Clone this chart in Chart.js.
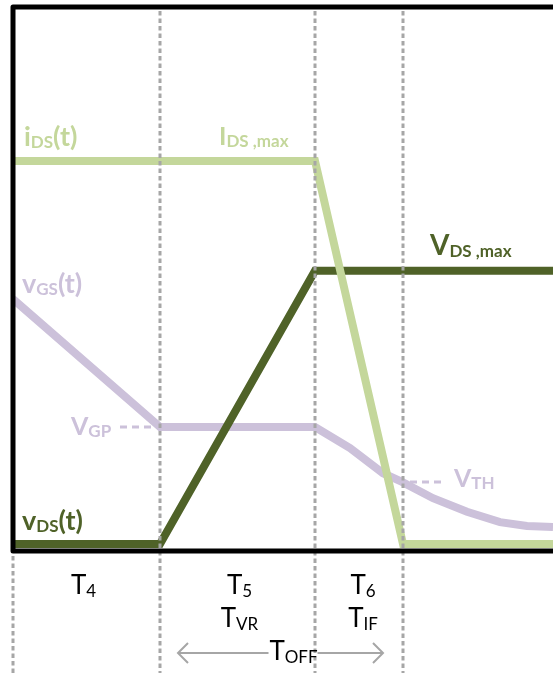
<!DOCTYPE html>
<html>
<head>
<meta charset="utf-8">
<script src="https://cdn.jsdelivr.net/npm/chart.js@4.4.1/dist/chart.umd.min.js"></script>
<style>
  html, body { margin: 0; padding: 0; background: #fff; }
  #wrap { width: 553px; height: 673px; }
</style>
</head>
<body>
<div id="wrap"><canvas id="switchChart"></canvas></div>
<script>
// turn-off interval boundaries (end of T4, T5, T6)
const phaseEnds = [29.4, 60.4, 78];

// drain current
const iDsTime = [0, 60.4, 78, 108];
const iDsValue = [7.17, 7.17, 0.13, 0.13];

// drain-source voltage
const vDsTime = [0, 29.4, 60.4, 108];
const vDsValue = [0.13, 0.13, 5.15, 5.15];

// gate-source voltage
const vGsTime = [0, 29.4, 60.4, 67.4, 74, 77.8, 84, 90.8, 97.4, 102.8, 108];
const vGsValue = [4.63, 2.28, 2.28, 1.89, 1.43, 1.27, 0.97, 0.72, 0.53, 0.46, 0.44];

// plateau / threshold levels
const vGp = 2.28;
const vTh = 1.27;

const FONT = 'Lato, "Open Sans", sans-serif';
const GREEN_LIGHT = '#c4d79b';
const GREEN_DARK = '#4f6228';
const LAVENDER = '#ccc1da';
const GRID_GRAY = '#a6a6a6';

function toPoints(xs, ys) {
    return xs.map((x, i) => ({ x: x, y: ys[i] }));
}

// draws text pieces one after another, subscripts shifted down a bit
function drawParts(ctx, x, y, parts, color, align) {
    ctx.save();
    ctx.fillStyle = color;
    ctx.textBaseline = 'alphabetic';
    ctx.textAlign = 'left';
    let total = 0;
    parts.forEach(p => {
        ctx.font = p.font;
        total += ctx.measureText(p.text).width;
    });
    let cx = align === 'center' ? x - total / 2 : x;
    parts.forEach(p => {
        ctx.font = p.font;
        ctx.fillText(p.text, cx, y + (p.dy || 0));
        cx += ctx.measureText(p.text).width;
    });
    ctx.restore();
}

const big = (t) => ({ text: t, font: 'bold 27px ' + FONT });
const sub = (t) => ({ text: t, font: 'bold 17px ' + FONT, dy: 2 });
const tMain = () => ({ text: 'T', font: '26px ' + FONT });
const tSub = (t) => ({ text: t, font: '17px ' + FONT, dy: 3 });

const annotations = {
    id: 'annotations',
    afterDatasetsDraw(chart) {
        const ctx = chart.ctx;
        const xs = chart.scales.x;
        const ys = chart.scales.y;
        const area = chart.chartArea;
        const H = chart.height;

        // dashed phase boundaries
        ctx.save();
        ctx.strokeStyle = GRID_GRAY;
        ctx.lineWidth = 3;
        ctx.lineCap = 'butt';
        ctx.setLineDash([4.5, 3]);
        phaseEnds.forEach(t => {
            const px = Math.round(xs.getPixelForValue(t));
            ctx.beginPath();
            ctx.moveTo(px, area.top + 4);
            ctx.lineTo(px, H);
            ctx.stroke();
        });
        const x0 = xs.getPixelForValue(0);
        ctx.beginPath();
        ctx.moveTo(x0, area.bottom + 5);
        ctx.lineTo(x0, H);
        ctx.stroke();
        ctx.restore();

        // frame: top, left, bottom
        ctx.save();
        ctx.strokeStyle = '#000';
        ctx.lineWidth = 5;
        ctx.lineJoin = 'round';
        ctx.beginPath();
        ctx.moveTo(chart.width, area.top);
        ctx.lineTo(area.left, area.top);
        ctx.lineTo(area.left, area.bottom);
        ctx.lineTo(chart.width, area.bottom);
        ctx.stroke();
        ctx.restore();

        // short dashed leaders for V_GP and V_TH
        ctx.save();
        ctx.lineWidth = 3;
        ctx.strokeStyle = LAVENDER;
        ctx.setLineDash([7, 5]);
        const yGp = ys.getPixelForValue(vGp);
        ctx.beginPath();
        ctx.moveTo(xs.getPixelForValue(phaseEnds[0]) - 40, yGp);
        ctx.lineTo(xs.getPixelForValue(phaseEnds[0]) - 4, yGp);
        ctx.stroke();
        const yTh = ys.getPixelForValue(vTh);
        ctx.beginPath();
        ctx.moveTo(xs.getPixelForValue(phaseEnds[2]) + 7, yTh);
        ctx.lineTo(xs.getPixelForValue(phaseEnds[2]) + 42, yTh);
        ctx.stroke();
        ctx.restore();

        // curve labels
        const left = area.left;
        drawParts(ctx, left + 11, ys.getPixelForValue(iDsValue[0]) - 15,
            [big('i'), sub('DS'), big('(t)')], GREEN_LIGHT);
        drawParts(ctx, xs.getPixelForValue(phaseEnds[1]) - 96, ys.getPixelForValue(iDsValue[0]) - 16,
            [{ text: 'I', font: 'bold 25px ' + FONT }, sub('DS ,max')], GREEN_LIGHT);
        drawParts(ctx, xs.getPixelForValue(phaseEnds[2]) + 27, ys.getPixelForValue(vDsValue[3]) - 16,
            [{ text: 'V', font: 'bold 28px ' + FONT }, sub('DS ,max')], GREEN_DARK);
        drawParts(ctx, left + 9, ys.getPixelForValue(vGsValue[0]) - 6,
            [big('v'), sub('GS'), big('(t)')], LAVENDER);
        drawParts(ctx, left + 58, ys.getPixelForValue(vGp) + 8,
            [{ text: 'V', font: 'bold 25px ' + FONT }, sub('GP')], LAVENDER);
        drawParts(ctx, xs.getPixelForValue(phaseEnds[2]) + 51, ys.getPixelForValue(vTh) + 5,
            [{ text: 'V', font: 'bold 25px ' + FONT }, sub('TH')], LAVENDER);
        drawParts(ctx, left + 9, ys.getPixelForValue(vDsValue[0]) - 14,
            [big('v'), sub('DS'), big('(t)')], GREEN_DARK);

        // interval names under the axis
        const b0 = xs.getPixelForValue(0);
        const b1 = xs.getPixelForValue(phaseEnds[0]);
        const b2 = xs.getPixelForValue(phaseEnds[1]);
        const b3 = xs.getPixelForValue(phaseEnds[2]);
        const row1 = area.bottom + 43;
        const row2 = area.bottom + 76;
        drawParts(ctx, (b0 + b1) / 2 - 3, row1, [tMain(), tSub('4')], '#000', 'center');
        drawParts(ctx, (b1 + b2) / 2 + 2, row1, [tMain(), tSub('5')], '#000', 'center');
        drawParts(ctx, (b2 + b3) / 2 + 4, row1, [tMain(), tSub('6')], '#000', 'center');
        drawParts(ctx, (b1 + b2) / 2 + 2, row2, [tMain(), tSub('VR')], '#000', 'center');
        drawParts(ctx, (b2 + b3) / 2 + 4, row2, [tMain(), tSub('IF')], '#000', 'center');

        // T_OFF span arrow
        const ay = area.bottom + 102;
        const ax1 = b1 + 18;
        const ax2 = b3 - 20;
        const tx = (b1 + b3) / 2 + 12;
        ctx.save();
        ctx.strokeStyle = GRID_GRAY;
        ctx.lineWidth = 2;
        ctx.beginPath();
        ctx.moveTo(ax1, ay); ctx.lineTo(tx - 25, ay);
        ctx.moveTo(tx + 24, ay); ctx.lineTo(ax2, ay);
        ctx.moveTo(ax1 + 10, ay - 10); ctx.lineTo(ax1, ay); ctx.lineTo(ax1 + 10, ay + 10);
        ctx.moveTo(ax2 - 10, ay - 10); ctx.lineTo(ax2, ay); ctx.lineTo(ax2 - 10, ay + 10);
        ctx.stroke();
        ctx.restore();
        drawParts(ctx, tx, area.bottom + 109, [tMain(), tSub('OFF')], '#000', 'center');
    }
};

const lineStyle = {
    fill: false,
    tension: 0,
    pointRadius: 0,
    borderCapStyle: 'butt',
    borderJoinStyle: 'miter'
};

new Chart(document.getElementById('switchChart'), {
    type: 'line',
    data: {
        datasets: [
            Object.assign({ label: 'iDS', data: toPoints(iDsTime, iDsValue), borderColor: GREEN_LIGHT, borderWidth: 8, order: 0 }, lineStyle),
            Object.assign({ label: 'vDS', data: toPoints(vDsTime, vDsValue), borderColor: GREEN_DARK, borderWidth: 8, order: 1 }, lineStyle),
            Object.assign({ label: 'vGS', data: toPoints(vGsTime, vGsValue), borderColor: LAVENDER, borderWidth: 8, order: 2 }, lineStyle)
        ]
    },
    options: {
        responsive: true,
        maintainAspectRatio: false,
        animation: false,
        devicePixelRatio: 1,
        layout: { padding: { left: 13, top: 7, right: 0, bottom: 122 } },
        scales: {
            x: { type: 'linear', min: 0, max: 108, display: false },
            y: { type: 'linear', min: 0, max: 10, display: false }
        },
        plugins: {
            legend: { display: false },
            tooltip: { enabled: false }
        }
    },
    plugins: [annotations]
});
</script>
</body>
</html>
